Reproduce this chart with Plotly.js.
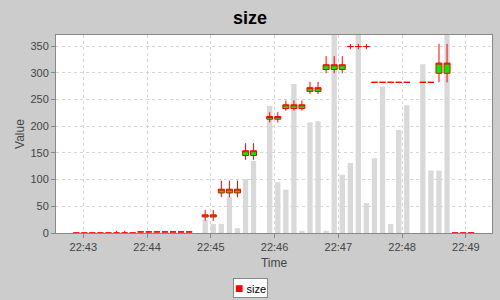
<!DOCTYPE html>
<html>
<head>
<meta charset="utf-8">
<script src="https://cdn.plot.ly/plotly-3.0.1.min.js"></script>
<style>html,body{margin:0;padding:0;background:#cccccc;}#chart{width:500px;height:300px;}</style>
</head>
<body>
<div id="chart"></div>
<script>
const times = [
  "2024-01-01 22:42:53.4","2024-01-01 22:43:01.0","2024-01-01 22:43:08.5","2024-01-01 22:43:16.1",
  "2024-01-01 22:43:23.7","2024-01-01 22:43:31.3","2024-01-01 22:43:38.9","2024-01-01 22:43:46.5",
  "2024-01-01 22:43:54.0","2024-01-01 22:44:01.6","2024-01-01 22:44:09.2","2024-01-01 22:44:16.8",
  "2024-01-01 22:44:24.4","2024-01-01 22:44:32.0","2024-01-01 22:44:39.6",
  "2024-01-01 22:44:54.7","2024-01-01 22:45:02.3","2024-01-01 22:45:09.9","2024-01-01 22:45:17.5",
  "2024-01-01 22:45:25.1","2024-01-01 22:45:32.7","2024-01-01 22:45:40.2",
  "2024-01-01 22:45:55.4","2024-01-01 22:46:03.0","2024-01-01 22:46:10.6","2024-01-01 22:46:18.2",
  "2024-01-01 22:46:25.7","2024-01-01 22:46:33.3","2024-01-01 22:46:40.9","2024-01-01 22:46:48.5",
  "2024-01-01 22:46:56.1","2024-01-01 22:47:03.7","2024-01-01 22:47:11.3","2024-01-01 22:47:18.8",
  "2024-01-01 22:47:26.4","2024-01-01 22:47:34.0","2024-01-01 22:47:41.6","2024-01-01 22:47:49.2",
  "2024-01-01 22:47:56.8","2024-01-01 22:48:04.4",
  "2024-01-01 22:48:19.5","2024-01-01 22:48:27.1","2024-01-01 22:48:34.7","2024-01-01 22:48:42.3",
  "2024-01-01 22:48:49.9","2024-01-01 22:48:57.4","2024-01-01 22:49:05.0"
];
const opens = [
  0,0,0,0,0,0,0,0,
  2,2,2,2,2,2,2,
  30,30, 75,75,75, 145,145,
  213,213, 233,233,233, 265,265, 306,306,306, 349,349,349, 282,282,282,282,282,
  282,282, 299,299, 0,0,0
];
const highs = [
  0,0,0,0,0,4,4,0,
  2,2,2,2,2,2,2,
  43,43, 98,98,98, 168,168,
  226,226, 248,248,248, 283,283, 331,331,331, 354,354,354, 282,282,282,282,282,
  282,282, 354,354, 0,0,0
];
const lows = [
  0,0,0,0,0,0,0,0,
  2,2,2,2,2,2,2,
  23,23, 67,67,67, 137,137,
  207,207, 229,229,229, 260,260, 299,299,299, 344,344,344, 282,282,282,282,282,
  282,282, 282,282, 0,0,0
];
const closes = [
  0,0,0,0,0,0,0,0,
  2,2,2,2,2,2,2,
  34,34, 82,82,82, 154,154,
  218,218, 240,240,240, 272,272, 315,315,315, 349,349,349, 282,282,282,282,282,
  282,282, 318,318, 0,0,0
];
const volumes = [
  0,0,0,0,0,0,0,0,
  0,0,0,0,0,0,0,
  25,17, 17,68,9, 101,135,
  238,95, 81,279,4, 207,209, 4,375,109, 131,375,56, 140,274,17,193,239,
  316,117, 117,375, 0,0,0
];
const yTicks = [0,50,100,150,200,250,300,350];
const seriesName = 'size';

const traces = [
  {
    type: 'bar', x: times, y: volumes, width: 5000,
    marker: {color: '#d9d9d9'}, showlegend: false, hoverinfo: 'skip'
  },
  {
    type: 'candlestick', x: times, open: opens, high: highs, low: lows, close: closes,
    name: seriesName,
    increasing: {line: {color: '#ff0000', width: 1}, fillcolor: '#00ee00'},
    decreasing: {line: {color: '#ff0000', width: 1}, fillcolor: '#ff0000'},
    whiskerwidth: 0, showlegend: false, hoverinfo: 'skip'
  }
];

const fam = 'Liberation Sans, Arial, sans-serif';
const axisFont = {family: fam, size: 11, color: '#444444'};
const layout = {
  width: 500, height: 300,
  margin: {l: 56, r: 8, t: 35, b: 67},
  paper_bgcolor: '#cccccc', plot_bgcolor: '#ffffff',
  font: {family: fam},
  boxgap: 0.25, boxgroupgap: 0,
  title: {
    text: 'size', x: 0.5, xanchor: 'center', y: 0.94, yanchor: 'middle',
    font: {family: fam, size: 18, color: '#000000', weight: 'bold'}
  },
  xaxis: {
    type: 'date',
    range: ['2024-01-01 22:42:34.3', '2024-01-01 22:49:24.6'],
    tick0: '2024-01-01 22:43:00', dtick: 60000, tickformat: '%H:%M',
    ticks: 'outside', ticklen: 4, tickcolor: '#888888',
    showgrid: true, gridcolor: '#d6d6d6', griddash: '3px,3px',
    showline: true, linecolor: '#888888', mirror: true, zeroline: false,
    tickfont: axisFont,
    title: {text: 'Time', font: {family: fam, size: 12, color: '#444444'}, standoff: 6},
    rangeslider: {visible: false}, fixedrange: true, automargin: false
  },
  yaxis: {
    range: [0, 370.6], tickvals: yTicks,
    ticks: 'outside', ticklen: 4, tickcolor: '#888888',
    showgrid: true, gridcolor: '#d6d6d6', griddash: '3px,3px',
    showline: true, linecolor: '#888888', mirror: true, zeroline: false,
    tickfont: axisFont,
    title: {text: 'Value', font: {family: fam, size: 12, color: '#444444'}, standoff: 3},
    fixedrange: true, automargin: false
  },
  showlegend: false,
  annotations: [{
    xref: 'paper', yref: 'paper', x: 0.445, y: -0.279, xanchor: 'center', yanchor: 'middle',
    showarrow: false,
    text: '<span style="color:#ff0000;font-size:14px">■</span> ' + seriesName,
    font: {family: fam, size: 11, color: '#000000'},
    bgcolor: '#ffffff', bordercolor: '#888888', borderwidth: 1, borderpad: 1
  }]
};

Plotly.newPlot('chart', traces, layout, {displayModeBar: false, staticPlot: true});
</script>
</body>
</html>
